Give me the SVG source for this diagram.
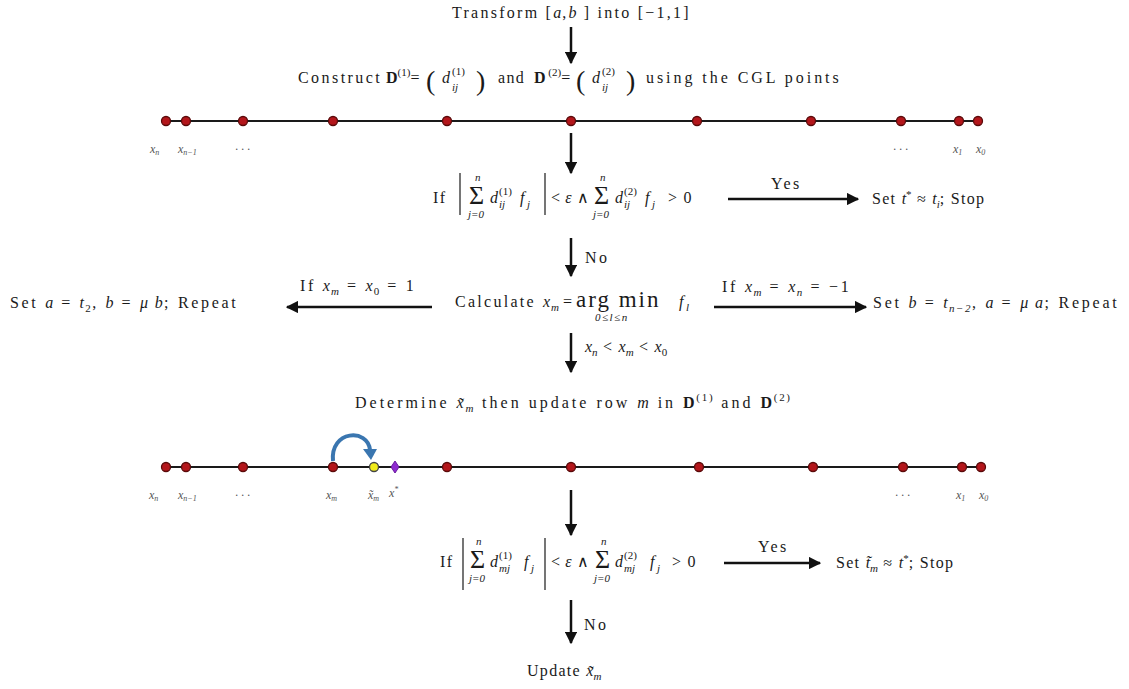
<svg xmlns="http://www.w3.org/2000/svg" width="1129" height="689" viewBox="0 0 1129 689">
<style>
.t{font-family:"Liberation Serif",serif;font-size:16px;letter-spacing:1.3px;fill:#1a1a1a}
.i{font-style:italic;letter-spacing:0}
.b{font-weight:bold;letter-spacing:0}
.s{font-size:11px;letter-spacing:0}
.w{letter-spacing:2.5px}
.sg{font-family:"Liberation Serif",serif;font-size:26px;fill:#1a1a1a}
.bp{font-family:"Liberation Serif",serif;font-size:28px;fill:#1a1a1a}
.lbl{font-family:"Liberation Serif",serif;font-style:italic;font-size:12px;fill:#555}
.ln{stroke:#1a1a1a;stroke-width:2.2;fill:none}
.ar{stroke:#111;stroke-width:2.5;fill:none}
.dot{fill:#b3161b;stroke:#5a0a0a;stroke-width:1.3}
.bar{stroke:#1a1a1a;stroke-width:1.2}
</style>
<defs>
<marker id="ah" viewBox="0 0 10 10" refX="9" refY="5" markerWidth="5" markerHeight="5" orient="auto" markerUnits="strokeWidth">
<path d="M0,0 L10,5 L0,10 z" fill="#111"/>
</marker>
</defs>

<g id="connectors">
<line class="ar" x1="571" y1="27" x2="571" y2="63" marker-end="url(#ah)"/>
<line class="ar" x1="571" y1="133" x2="571" y2="173" marker-end="url(#ah)"/>
<line class="ar" x1="728" y1="199" x2="858" y2="199" marker-end="url(#ah)"/>
<line class="ar" x1="571" y1="238" x2="571" y2="276" marker-end="url(#ah)"/>
<line class="ar" x1="432" y1="307" x2="287" y2="307" marker-end="url(#ah)"/>
<line class="ar" x1="714" y1="307" x2="866" y2="307" marker-end="url(#ah)"/>
<line class="ar" x1="571" y1="333" x2="571" y2="372" marker-end="url(#ah)"/>
<line class="ar" x1="571" y1="490" x2="571" y2="535" marker-end="url(#ah)"/>
<line class="ar" x1="724" y1="563" x2="820" y2="563" marker-end="url(#ah)"/>
<line class="ar" x1="571" y1="600" x2="571" y2="643" marker-end="url(#ah)"/>
<text class="t w" x="771" y="189">Yes</text>
<text class="t w" x="585" y="263">No</text>
<text class="t" x="300" y="291" textLength="115">If <tspan class="i">x</tspan><tspan class="i s" dy="4">m</tspan><tspan dy="-4"> =  </tspan><tspan class="i">x</tspan><tspan class="s" dy="4">0</tspan><tspan dy="-4"> = 1</tspan></text>
<text class="t" x="722" y="292" textLength="128">If <tspan class="i">x</tspan><tspan class="i s" dy="4">m</tspan><tspan dy="-4"> =  </tspan><tspan class="i">x</tspan><tspan class="i s" dy="4">n</tspan><tspan dy="-4"> = −1</tspan></text>
<text class="t" x="585" y="352"><tspan class="i">x</tspan><tspan class="i s" dy="4">n</tspan><tspan dy="-4"> &lt;  </tspan><tspan class="i">x</tspan><tspan class="i s" dy="4">m</tspan><tspan dy="-4"> &lt; </tspan><tspan class="i">x</tspan><tspan class="s" dy="4">0</tspan></text>
<text class="t w" x="758" y="552">Yes</text>
<text class="t w" x="584" y="630">No</text>
</g>

<g id="transform">
<text class="t" x="452" y="18" textLength="238">Transform [<tspan class="i">a</tspan>,<tspan class="i">b</tspan> ] into [−1,1]</text>
</g>

<g id="construct">
<text class="t" x="298" y="83" textLength="83">Construct</text>
<text class="t" x="386" y="83"><tspan class="b">D</tspan><tspan class="s" dy="-7">(1)</tspan><tspan dy="7">=</tspan></text>
<text class="bp" x="426" y="90">(</text>
<text class="t i" x="442" y="83">d</text>
<text class="t s" x="452" y="75">(1)</text>
<text class="t i s" x="452" y="91">ij</text>
<text class="bp" x="476" y="90">)</text>
<text class="t" x="498" y="83">and</text>
<text class="t" x="534" y="83"><tspan class="b">D</tspan><tspan class="s" dy="-7"> (2)</tspan><tspan dy="7">=</tspan></text>
<text class="bp" x="576" y="90">(</text>
<text class="t i" x="592" y="83">d</text>
<text class="t s" x="602" y="75">(2)</text>
<text class="t i s" x="602" y="91">ij</text>
<text class="bp" x="626" y="90">)</text>
<text class="t" x="646" y="83" textLength="194">using the CGL points</text>
</g>

<g id="numberline1">
<line class="ln" x1="166" y1="121" x2="978" y2="121"/>
<circle class="dot" cx="166" cy="121" r="4.5"/>
<circle class="dot" cx="186" cy="121" r="4.5"/>
<circle class="dot" cx="243" cy="121" r="4.5"/>
<circle class="dot" cx="333" cy="121" r="4.5"/>
<circle class="dot" cx="447" cy="121" r="4.5"/>
<circle class="dot" cx="571" cy="121" r="4.5"/>
<circle class="dot" cx="697" cy="121" r="4.5"/>
<circle class="dot" cx="811" cy="121" r="4.5"/>
<circle class="dot" cx="901" cy="121" r="4.5"/>
<circle class="dot" cx="959" cy="121" r="4.5"/>
<circle class="dot" cx="978" cy="121" r="4.5"/>
<text class="lbl" x="150" y="153">x<tspan style="font-size:8px" dy="2">n</tspan></text>
<text class="lbl" x="178" y="153">x<tspan style="font-size:8px" dy="2">n−1</tspan></text>
<text class="lbl" x="235" y="153">· · ·</text>
<text class="lbl" x="893" y="153">· · ·</text>
<text class="lbl" x="953" y="153">x<tspan style="font-size:8px" dy="2">1</tspan></text>
<text class="lbl" x="976" y="153">x<tspan style="font-size:8px" dy="2">0</tspan></text>
</g>

<g id="check1">
<text class="t" x="433" y="203">If</text>
<line class="bar" x1="460" y1="173" x2="460" y2="215"/>
<line class="bar" x1="545" y1="173" x2="545" y2="215"/>
<text class="sg" x="469" y="204">Σ</text>
<text class="t i s" x="475" y="181">n</text>
<text class="t i s" x="468" y="218">j=0</text>
<text class="t i" x="490" y="203">d</text>
<text class="t s" x="499" y="195">(1)</text>
<text class="t i s" x="499" y="208">ij</text>
<text class="t i" x="520" y="203">f</text>
<text class="t i s" x="527" y="208">j</text>
<text class="t" x="551" y="203">&lt;<tspan class="i"> ε</tspan> ∧</text>
<text class="sg" x="594" y="204">Σ</text>
<text class="t i s" x="600" y="181">n</text>
<text class="t i s" x="593" y="218">j=0</text>
<text class="t i" x="615" y="203">d</text>
<text class="t s" x="624" y="195">(2)</text>
<text class="t i s" x="624" y="208">ij</text>
<text class="t i" x="645" y="203">f</text>
<text class="t i s" x="652" y="208">j</text>
<text class="t" x="668" y="203">&gt; 0</text>
</g>

<g id="stop1">
<text class="t" x="872" y="204">Set <tspan class="i">t</tspan><tspan class="s" dy="-6">*</tspan><tspan dy="6"> ≈ </tspan><tspan class="i">t</tspan><tspan class="i s" dy="4">i</tspan><tspan dy="-4">; Stop</tspan></text>
</g>

<g id="calculate">
<text class="t" x="455" y="307" textLength="80">Calculate</text>
<text class="t i" x="543" y="307">x</text>
<text class="t i s" x="551" y="311">m</text>
<text class="t" x="563" y="307">=</text>
<text class="t" x="576" y="307" style="font-size:23px;letter-spacing:2px">arg min</text>
<text class="t" x="595" y="321" style="font-size:11px;font-style:italic;letter-spacing:1.5px">0≤l≤n</text>
<text class="t i" x="679" y="307">f</text>
<text class="t i s" x="686" y="311">l</text>
</g>

<g id="repeat_left">
<text class="t" x="10" y="308" textLength="227">Set <tspan class="i">a</tspan> = <tspan class="i">t</tspan><tspan class="s" dy="4">2</tspan><tspan dy="-4">, </tspan><tspan class="i">b</tspan> = <tspan class="i">μ b</tspan>; Repeat</text>
</g>

<g id="repeat_right">
<text class="t" x="873" y="308" textLength="245">Set <tspan class="i">b</tspan> = <tspan class="i">t</tspan><tspan class="i s" dy="4">n−2</tspan><tspan dy="-4">, </tspan><tspan class="i">a</tspan> = <tspan class="i">μ a</tspan>; Repeat</text>
</g>

<g id="determine">
<text class="t" x="355" y="408" textLength="435">Determine <tspan class="i">x̃</tspan><tspan class="i s" dy="4">m</tspan><tspan dy="-4"> then update row </tspan><tspan class="i">m</tspan> in <tspan class="b">D</tspan><tspan class="s" dy="-7">(1)</tspan><tspan dy="7"> and </tspan><tspan class="b">D</tspan><tspan class="s" dy="-7">(2)</tspan></text>
</g>

<g id="numberline2">
<line class="ln" x1="166" y1="467" x2="981" y2="467"/>
<circle class="dot" cx="166" cy="467" r="4.5"/>
<circle class="dot" cx="186" cy="467" r="4.5"/>
<circle class="dot" cx="243" cy="467" r="4.5"/>
<circle class="dot" cx="333" cy="467" r="4.5"/>
<circle cx="374" cy="467" r="4.5" fill="#f2ec1a" stroke="#444" stroke-width="1.3"/>
<path d="M395,461 L399,467 L395,473 L391,467 Z" fill="#8e2bd0" stroke="#6a1aa0" stroke-width="1"/>
<circle class="dot" cx="447" cy="467" r="4.5"/>
<circle class="dot" cx="571" cy="467" r="4.5"/>
<circle class="dot" cx="699" cy="467" r="4.5"/>
<circle class="dot" cx="813" cy="467" r="4.5"/>
<circle class="dot" cx="903" cy="467" r="4.5"/>
<circle class="dot" cx="962" cy="467" r="4.5"/>
<circle class="dot" cx="981" cy="467" r="4.5"/>
<path d="M333,461 C330,430 368,428 370,450" stroke="#3a76b0" stroke-width="4" fill="none"/>
<path d="M363,449 L377,449 L371,460 Z" fill="#3a76b0"/>
<text class="lbl" x="149" y="499">x<tspan style="font-size:8px" dy="2">n</tspan></text>
<text class="lbl" x="178" y="499">x<tspan style="font-size:8px" dy="2">n−1</tspan></text>
<text class="lbl" x="235" y="499">· · ·</text>
<text class="lbl" x="326" y="499">x<tspan style="font-size:8px" dy="2">m</tspan></text>
<text class="lbl" x="368" y="499">x̃<tspan style="font-size:8px" dy="2">m</tspan></text>
<text class="lbl" x="389" y="497">x<tspan style="font-size:8px" dy="-5">*</tspan></text>
<text class="lbl" x="895" y="499">· · ·</text>
<text class="lbl" x="956" y="499">x<tspan style="font-size:8px" dy="2">1</tspan></text>
<text class="lbl" x="979" y="499">x<tspan style="font-size:8px" dy="2">0</tspan></text>
</g>

<g id="check2">
<text class="t" x="440" y="567">If</text>
<line class="bar" x1="463" y1="538" x2="463" y2="590"/>
<line class="bar" x1="545" y1="538" x2="545" y2="590"/>
<text class="sg" x="470" y="568">Σ</text>
<text class="t i s" x="476" y="545">n</text>
<text class="t i s" x="469" y="582">j=0</text>
<text class="t i" x="490" y="567">d</text>
<text class="t s" x="499" y="559">(1)</text>
<text class="t i s" x="499" y="572">mj</text>
<text class="t i" x="524" y="567">f</text>
<text class="t i s" x="531" y="572">j</text>
<text class="t" x="551" y="567">&lt;<tspan class="i"> ε</tspan> ∧</text>
<text class="sg" x="595" y="568">Σ</text>
<text class="t i s" x="601" y="545">n</text>
<text class="t i s" x="594" y="582">j=0</text>
<text class="t i" x="615" y="567">d</text>
<text class="t s" x="624" y="559">(2)</text>
<text class="t i s" x="624" y="572">mj</text>
<text class="t i" x="650" y="567">f</text>
<text class="t i s" x="657" y="572">j</text>
<text class="t" x="672" y="567">&gt; 0</text>
</g>

<g id="stop2">
<text class="t" x="836" y="568">Set <tspan class="i">t̃</tspan><tspan class="i s" dy="4">m</tspan><tspan dy="-4"> ≈ </tspan><tspan class="i">t</tspan><tspan class="s" dy="-6">*</tspan><tspan dy="6">; Stop</tspan></text>
</g>

<g id="update">
<text class="t" x="527" y="676">Update <tspan class="i">x̃</tspan><tspan class="i s" dy="4">m</tspan></text>
</g>
</svg>
